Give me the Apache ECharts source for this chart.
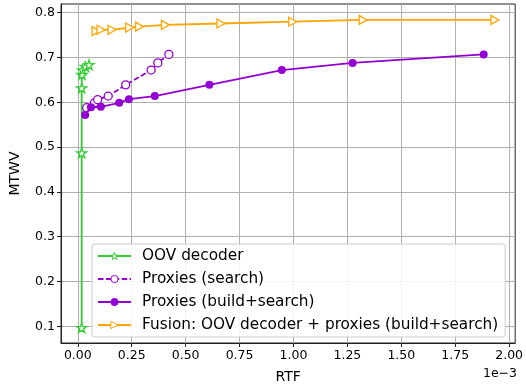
<!DOCTYPE html>
<html>
<head>
<meta charset="utf-8">
<script src="https://cdn.jsdelivr.net/npm/echarts@6/dist/echarts.min.js"></script>
<style>html,body{margin:0;padding:0;background:#fff}#c{width:526px;height:389px}</style>
</head>
<body>
<div id="c"></div>
<script>
// RTF in units of 1e-3, MTWV
const seriesNames = ['OOV decoder', 'Proxies (search)', 'Proxies (build+search)', 'Fusion: OOV decoder + proxies (build+search)'];
const oovDecoder = [[0.018,0.097],[0.018,0.487],[0.018,0.632],[0.019,0.662],[0.022,0.672],[0.035,0.680],[0.052,0.684]];
const proxiesSearch = [[0.041,0.588],[0.077,0.599],[0.092,0.606],[0.141,0.614],[0.222,0.639],[0.340,0.672],[0.371,0.688],[0.422,0.707]];
const proxiesBuildSearch = [[0.034,0.572],[0.061,0.589],[0.107,0.590],[0.192,0.599],[0.237,0.607],[0.357,0.614],[0.610,0.639],[0.946,0.672],[1.274,0.688],[1.882,0.707]];
const fusion = [[0.084,0.759],[0.107,0.762],[0.158,0.762],[0.240,0.767],[0.286,0.769],[0.406,0.773],[0.663,0.776],[0.996,0.780],[1.323,0.784],[1.934,0.784]];
const xTicks = [0, 0.25, 0.5, 0.75, 1.0, 1.25, 1.5, 1.75, 2.0];
const yTicks = [0.1, 0.2, 0.3, 0.4, 0.5, 0.6, 0.7, 0.8];

const GREEN = '#32CD32', VIOLET = '#9400D3', ORANGE = '#FFA500';
const STAR = 'path://M100,0 L122.45,69.1 L195.1,69.1 L136.3,111.8 L158.8,180.9 L100,138.2 L41.2,180.9 L63.7,111.8 L4.9,69.1 L77.55,69.1 Z';
const TRI = 'path://M0,0 L17.3,10 L0,20 Z';
const font = 'DejaVu Sans';

const chart = echarts.init(document.getElementById('c'), null, {renderer: 'canvas'});
chart.setOption({
  animation: false,
  backgroundColor: '#fff',
  grid: {left: 58, right: 10, top: 4, bottom: 42, show: true, borderColor: '#222', borderWidth: 1, backgroundColor: 'transparent'},
  xAxis: {
    type: 'value', min: -0.078, max: 2.028,
    name: 'RTF', nameLocation: 'middle', nameGap: 27,
    nameTextStyle: {fontFamily: font, fontSize: 14, color: '#000'},
    axisLine: {show: true, onZero: false, lineStyle: {color: '#222', width: 1}},
    axisTick: {show: true, length: 4, lineStyle: {color: '#222'}, customValues: xTicks},
    axisLabel: {customValues: xTicks, fontFamily: font, fontSize: 12.5, color: '#000', margin: 6, formatter: v => v.toFixed(2)},
    splitLine: {show: true, lineStyle: {color: '#b0b0b0', width: 1}}
  },
  yAxis: {
    type: 'value', min: 0.0628, max: 0.8195,
    name: 'MTWV', nameLocation: 'middle', nameGap: 39, nameRotate: 90,
    nameTextStyle: {fontFamily: font, fontSize: 14, color: '#000'},
    axisLine: {show: true, onZero: false, lineStyle: {color: '#222', width: 1}},
    axisTick: {show: true, length: 4, lineStyle: {color: '#222'}, customValues: yTicks},
    axisLabel: {customValues: yTicks, fontFamily: font, fontSize: 12.5, color: '#000', margin: 6, formatter: v => v.toFixed(1)},
    splitLine: {show: true, lineStyle: {color: '#b0b0b0', width: 1}}
  },
  legend: {
    orient: 'vertical', left: 92, top: 244,
    itemWidth: 33, itemHeight: 9, itemGap: 7,
    padding: [4, 7, 4, 5],
    backgroundColor: 'rgba(255,255,255,0.85)', borderColor: '#cccccc', borderWidth: 1, borderRadius: 3,
    itemStyle: {borderWidth: 1},
    textStyle: {fontFamily: font, fontSize: 15.3, lineHeight: 16, color: '#000', padding: [0, 0, 0, 6]},
    selectedMode: false,
    data: seriesNames
  },
  graphic: [{
    type: 'text', right: 9, top: 367,
    style: {text: '1e\u22123', fontFamily: font, fontSize: 12.5, fill: '#000'}
  }],
  series: [
    {name: seriesNames[0], type: 'line', data: oovDecoder, symbol: STAR, symbolSize: 10, symbolKeepAspect: true,
     lineStyle: {color: GREEN, width: 1.8}, itemStyle: {color: '#fff', borderColor: GREEN, borderWidth: 1.3}, z: 2},
    {name: seriesNames[1], type: 'line', data: proxiesSearch, symbol: 'circle', symbolSize: 8,
     lineStyle: {color: VIOLET, width: 1.8, type: [5.5, 2.4]}, itemStyle: {color: '#fff', borderColor: VIOLET, borderWidth: 1.3}, z: 3},
    {name: seriesNames[2], type: 'line', data: proxiesBuildSearch, symbol: 'circle', symbolSize: 8,
     lineStyle: {color: VIOLET, width: 1.8}, itemStyle: {color: VIOLET, borderColor: VIOLET, borderWidth: 0}, z: 4},
    {name: seriesNames[3], type: 'line', data: fusion, symbol: TRI, symbolSize: 9, symbolKeepAspect: true,
     lineStyle: {color: ORANGE, width: 1.8}, itemStyle: {color: '#fff', borderColor: ORANGE, borderWidth: 1.3}, z: 5}
  ]
});
</script>
</body>
</html>
